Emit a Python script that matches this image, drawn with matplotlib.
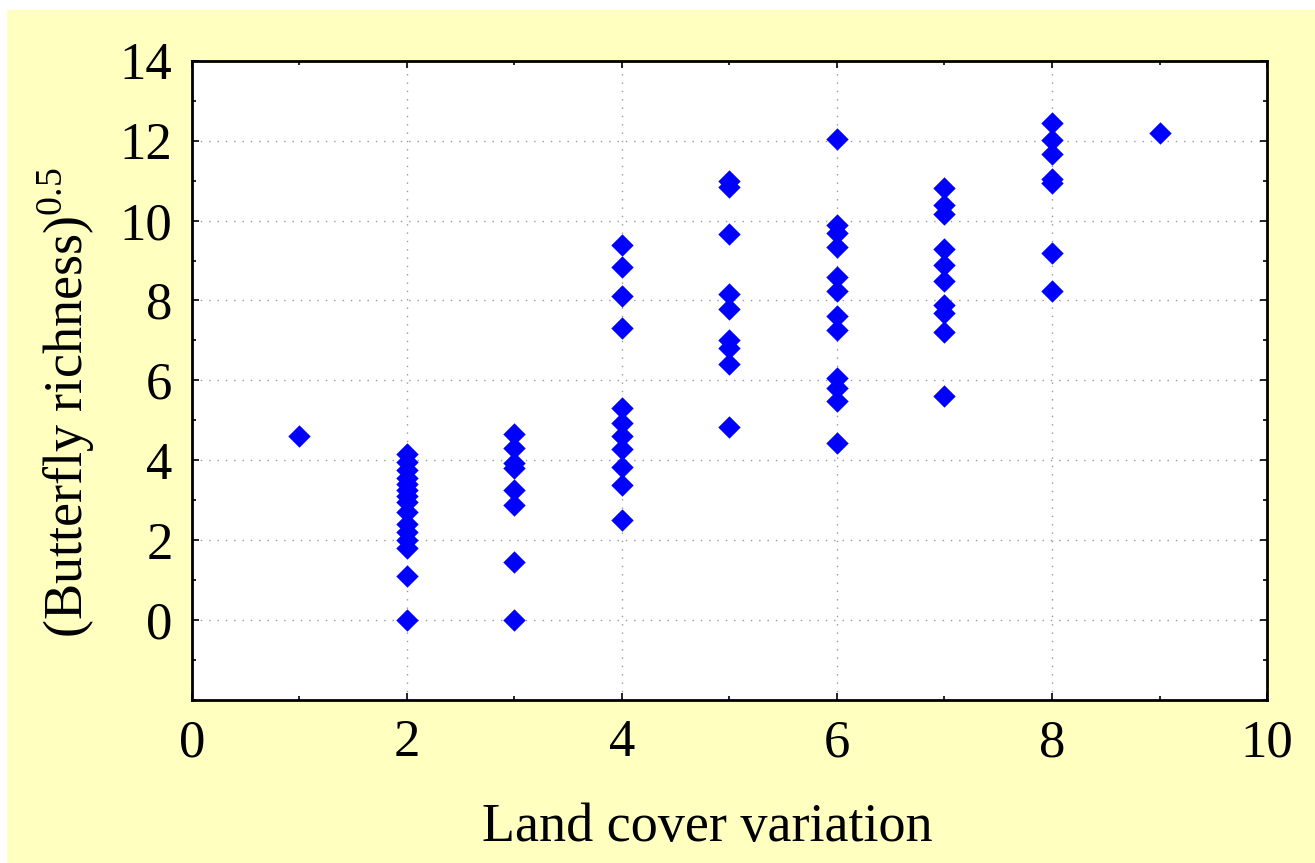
import matplotlib.pyplot as plt
from matplotlib.patches import Rectangle
from matplotlib.ticker import MultipleLocator

# land cover variation classes and sqrt(butterfly richness)
cover_1 = [4.6]
cover_2 = [4.15, 3.95, 3.75, 3.55, 3.4, 3.25, 3.1, 2.95, 2.7, 2.4, 2.2, 2.0, 1.8, 1.1, 0.0]
cover_3 = [4.65, 4.3, 3.93, 3.8, 3.25, 2.87, 1.45, 0.0]
cover_4 = [9.38, 8.83, 8.12, 7.3, 5.32, 4.94, 4.6, 4.29, 3.83, 3.38, 2.5]
cover_5 = [11.0, 10.85, 9.67, 8.17, 7.79, 7.0, 6.82, 6.42, 4.82]
cover_6 = [12.04, 9.88, 9.7, 9.35, 8.6, 8.25, 7.62, 7.25, 6.05, 5.82, 5.48, 4.42]
cover_7 = [10.81, 10.39, 10.16, 9.3, 8.88, 8.48, 7.88, 7.68, 7.22, 5.6]
cover_8 = [12.44, 12.02, 11.68, 11.05, 10.95, 9.19, 8.24]
cover_9 = [12.2]

columns = [cover_1, cover_2, cover_3, cover_4, cover_5, cover_6, cover_7, cover_8, cover_9]
x_vals = []
y_vals = []
for i, col in enumerate(columns):
    x_vals += [i + 1] * len(col)
    y_vals += col

plt.rcParams['font.family'] = ['Liberation Serif', 'DejaVu Serif']
plt.rcParams['mathtext.fontset'] = 'custom'
plt.rcParams['mathtext.rm'] = 'Liberation Serif'

fig = plt.figure(figsize=(13.15, 8.63), dpi=100, facecolor='white')
# pale yellow panel behind the plot
fig.add_artist(Rectangle((7 / 1315, 0), 1, 1 - 10 / 863, transform=fig.transFigure,
                         facecolor='#FFFFC0', edgecolor='none', zorder=-10))

ax = fig.add_axes([0.146, 0.189, 0.8175, 0.7405])
ax.set_facecolor('white')
ax.scatter(x_vals, y_vals, marker='D', s=130, color='#0000FF', linewidths=0, zorder=3)

ax.set_xlim(0, 10)
ax.set_ylim(-2, 14)
ax.set_xticks([0, 2, 4, 6, 8, 10])
ax.set_yticks([0, 2, 4, 6, 8, 10, 12, 14])
ax.xaxis.set_minor_locator(MultipleLocator(1))
ax.yaxis.set_minor_locator(MultipleLocator(1))
ax.tick_params(which='both', direction='in', top=True, right=True, width=1.2)
ax.tick_params(which='major', length=5, labelsize=38, pad=14)
ax.tick_params(which='minor', length=3)
ax.grid(True, which='major', linestyle=(0, (1, 5)), color='#999999', linewidth=1)
ax.set_axisbelow(True)
for sp in ax.spines.values():
    sp.set_linewidth(2)

ax.set_xlabel('Land cover variation', fontsize=39, labelpad=25)
ax.xaxis.label.set_x(0.479)
ax.set_ylabel('(Butterfly richness)$^{0.5}$', fontsize=39)
ax.yaxis.set_label_coords(-0.088, 0.465)

plt.savefig('out.png', dpi=100, facecolor=fig.get_facecolor())
